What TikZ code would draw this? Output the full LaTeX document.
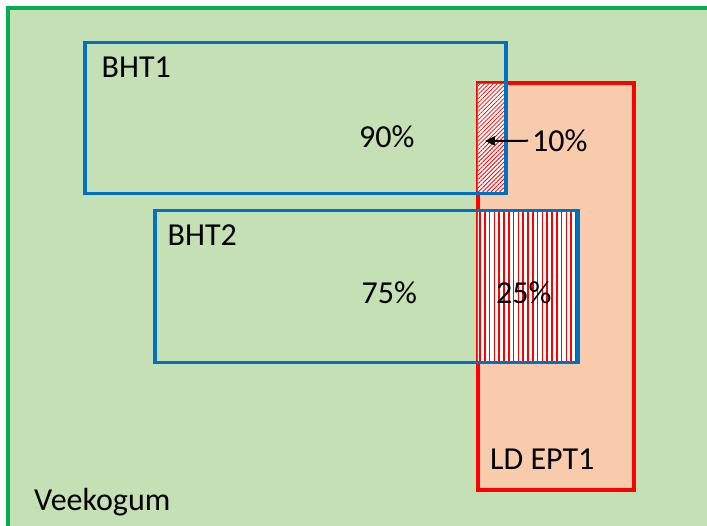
\documentclass[tikz,border=0pt]{standalone}
\usepackage{fontspec}
\setmainfont{Carlito}
\usetikzlibrary{patterns.meta,arrows.meta}
\definecolor{bggreen}{HTML}{C5E0B4}
\definecolor{frgreen}{HTML}{00B050}
\definecolor{bhtblue}{HTML}{0070C0}
\definecolor{hatchblue}{HTML}{4472C4}
\definecolor{peach}{HTML}{F8CBAD}
\definecolor{ldred}{HTML}{FF0000}
\begin{document}
\begin{tikzpicture}[x=1pt,y=-1pt,
  lbl/.style={font=\fontsize{32}{38}\selectfont, inner sep=0pt, anchor=base west, text=black},
  bhtbox/.style={draw=bhtblue, line width=3.5pt},
  hatchbox/.style={draw=hatchblue, line width=1.5pt}]
\useasboundingbox (0,0) rectangle (707,526);
\begin{scope}
  \clip (0,0) rectangle (707,526);
  \fill[bggreen] (8,8) rectangle (720,540);
  \draw[line width=4pt, draw=frgreen] (8,8) rectangle (720,540);
\end{scope}
% LD EPT1 area
\draw[fill=peach, draw=ldred, line width=4pt] (477.5,83.5) rectangle (634,490);
% hatched overlap 1
\fill[white] (477.5,83.5) rectangle (506,193.5);
\fill[pattern={Lines[angle=45,distance=3pt,line width=0.8pt]}, pattern color=ldred] (477.5,83.5) rectangle (506,193.5);
\draw[hatchbox] (477.5,83.5) rectangle (506,193.5);
% hatched overlap 2
\fill[white] (477.5,210.5) rectangle (578,362.5);
\fill[pattern={Lines[angle=90,distance=4.8pt,line width=1.6pt]}, pattern color=ldred] (477.5,210.5) rectangle (578,362.5);
\draw[hatchbox] (477.5,210.5) rectangle (578,362.5);
% BHT boxes
\draw[bhtbox] (85,42.5) rectangle (506,193.5);
\draw[bhtbox] (155,210.5) rectangle (578,362.5);
% labels
\node[lbl] (bht1) at (101.5,78) {BHT1};
\node[lbl] (p90) at (359,148) {90\%};
\node[lbl] (bht2) at (167.5,246) {BHT2};
\node[lbl] (p75) at (361.5,304) {75\%};
\node[lbl] (p25) at (496,304) {25\%};
\node[lbl] (p10) at (532,151.5) {10\%};
\node[lbl] (ld) at (490,469) {LD EPT1};
\node[lbl] (vee) at (34,510) {Veekogum};
\coordinate (tip) at (485,141);
\draw[-{Triangle[length=10pt,width=9pt]}, line width=2pt, shorten <=4pt] (p10.west) -- (tip);
\end{tikzpicture}
\end{document}
